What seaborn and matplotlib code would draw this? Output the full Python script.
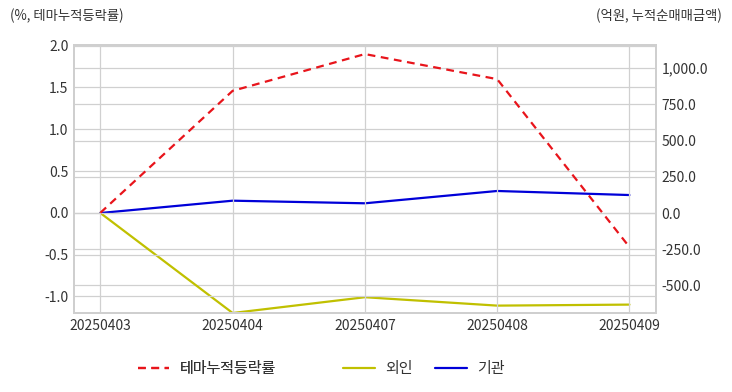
import matplotlib
matplotlib.use("Agg")
import matplotlib.pyplot as plt
import numpy as np
import pandas as pd
import seaborn as sns
from matplotlib.ticker import FuncFormatter, MultipleLocator

dates = ["20250403", "20250404", "20250407", "20250408", "20250409"]
theme_rate = [0.0, 1.46, 1.90, 1.60, -0.41]
foreign = [0.0, -690.0, -581.0, -639.0, -632.0]
institution = [0.0, 85.0, 67.0, 152.0, 124.0]

sns.set_style("whitegrid")
plt.rcParams["font.family"] = ["Noto Sans CJK KR", "DejaVu Sans"]

GRID = "#d0d0d0"
TXT = "#333333"

df = pd.DataFrame({"x": np.arange(len(dates)), "theme": theme_rate,
                   "foreign": foreign, "inst": institution})

fig = plt.figure(figsize=(7.32, 3.92), dpi=100)
ax = fig.add_axes([0.101, 0.2015, 0.795, 0.684])
ax2 = ax.twinx()

sns.lineplot(data=df, x="x", y="theme", ax=ax, color="#e8141b", lw=1.6,
             linestyle=(0, (3.5, 2.5)), label="테마누적등락률", legend=False)
sns.lineplot(data=df, x="x", y="foreign", ax=ax2, color="#c0c000", lw=1.6,
             label="외인", legend=False)
sns.lineplot(data=df, x="x", y="inst", ax=ax2, color="#0000d8", lw=1.6,
             label="기관", legend=False)

ax.set_xlim(-0.2, len(dates) - 0.8)
ax.set_xticks(df["x"])
ax.set_xticklabels(dates)
ax.set_ylim(-1.2, 2.01)
ax.yaxis.set_major_locator(MultipleLocator(0.5))
ax.yaxis.set_major_formatter(FuncFormatter(lambda v, p: f"{v:.1f}"))
ax2.set_ylim(-690, 1160)
ax2.yaxis.set_major_locator(MultipleLocator(250))
ax2.yaxis.set_major_formatter(FuncFormatter(lambda v, p: f"{v:,.1f}"))

for a in (ax, ax2):
    a.set_xlabel("")
    a.set_ylabel("")
    a.grid(True, color=GRID, lw=0.9)
    a.tick_params(length=0, labelsize=10, colors=TXT, pad=4)
    for s in a.spines.values():
        s.set_color("#cfcfcf")
        s.set_linewidth(1.4)
ax2.grid(axis="x", visible=False)
ax.set_axisbelow(True)
ax2.set_axisbelow(True)
ax.set_zorder(ax2.get_zorder() + 1)
ax.patch.set_visible(False)

fig.text(10 / 732, 1 - 16 / 392, "(%, 테마누적등락률)", fontsize=9.6, color=TXT,
         ha="left", va="center")
fig.text(722 / 732, 1 - 16 / 392, "(억원, 누적순매매금액)", fontsize=9.6, color=TXT,
         ha="right", va="center")

h1, l1 = ax.get_legend_handles_labels()
h2, l2 = ax2.get_legend_handles_labels()
leg_y = 1 - 369 / 392
leg1 = fig.legend(h1, l1, loc="center", bbox_to_anchor=(207 / 732, leg_y),
                  frameon=False, fontsize=10.8, handlelength=2.1,
                  handletextpad=0.7, labelcolor=TXT)
fig.legend(h2, l2, loc="center", bbox_to_anchor=(424 / 732, leg_y), ncol=2,
           frameon=False, fontsize=10.8, handlelength=2.1, handletextpad=0.7,
           columnspacing=1.5, labelcolor=TXT)
fig.add_artist(leg1)

fig.savefig("out.png", dpi=100)
